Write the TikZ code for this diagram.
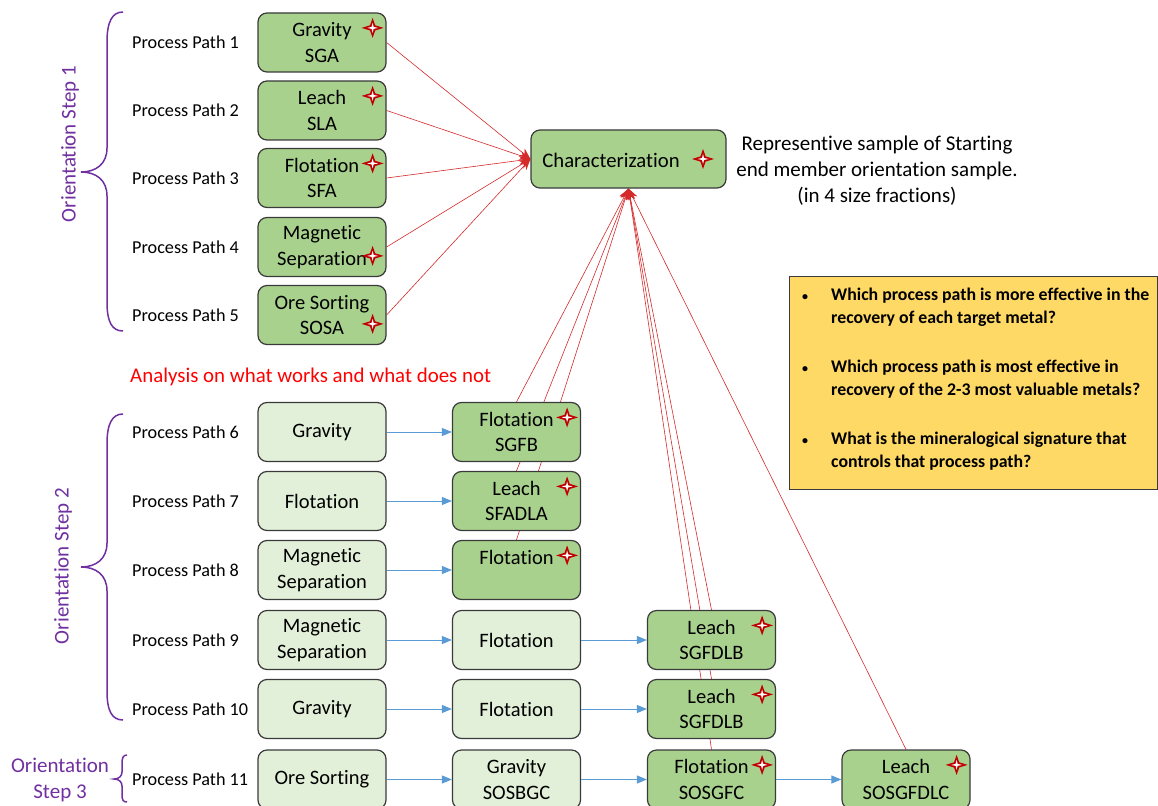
\documentclass[tikz,border=0pt]{standalone}
\usepackage{fontspec}
\setmainfont{Carlito}[Ligatures=NoCommon]
\usetikzlibrary{arrows.meta,calc,backgrounds}

\definecolor{darkgreen}{HTML}{A9D18E}
\definecolor{lightgreen}{HTML}{E2F0D9}
\definecolor{boxline}{HTML}{3A3A3A}
\definecolor{stepviolet}{HTML}{7030A0}
\definecolor{linkred}{HTML}{D42A2A}
\definecolor{sparkred}{HTML}{C00000}
\definecolor{feedblue}{HTML}{5B9BD5}
\definecolor{noteyellow}{HTML}{FFD966}

\tikzset{
  procbox/.style={draw=boxline, line width=1.2pt, rounded corners=9pt,
    minimum width=128pt, minimum height=59pt, align=center, inner sep=0pt,
    font=\fontsize{20.5}{25.5}\selectfont},
  darkbox/.style={procbox, fill=darkgreen},
  lightbox/.style={procbox, fill=lightgreen},
  pathlabel/.style={anchor=west, inner sep=0pt, font=\fontsize{18.2}{22}\selectfont},
  feed/.style={draw=feedblue, line width=1pt, -{Triangle[length=10pt,width=8pt]}},
  tochar/.style={draw=linkred, line width=0.6pt, -{Stealth[length=11pt,width=9pt]}},
  stepbrace/.style={draw=stepviolet, line width=1.5pt},
  steplabel/.style={text=stepviolet, inner sep=0pt, font=\fontsize{21}{26}\selectfont},
  spark/.pic={
    \fill[sparkred] (0,-10) -- (2.6,-2.6) -- (11,0) -- (2.6,2.6) -- (0,10)
      -- (-2.6,2.6) -- (-11,0) -- (-2.6,-2.6) -- cycle;
    \fill[white] (0,-5) -- (1,-1) -- (5.5,0) -- (1,1) -- (0,5)
      -- (-1,1) -- (-5.5,0) -- (-1,-1) -- cycle;
  },
}
\newcommand\qdot{{\fontsize{12}{12}\selectfont\textbullet}}

\begin{document}
\begin{tikzpicture}[x=1pt,y=-1pt]
\useasboundingbox (0,0) rectangle (1158,805);

% ---------- orientation step 1 ----------
\foreach \n/\y in {1/42.5,2/110.5,3/178,4/247,5/315}
  \node[pathlabel] (pp\n) at (132,\y) {Process Path \n};

\node[darkbox] (g1) at (322,42.5) {Gravity\\SGA};
\node[darkbox] (g2) at (322,110.5) {Leach\\SLA};
\node[darkbox] (g3) at (322,178) {Flotation\\SFA};
\node[darkbox] (g4) at (322,247) {Magnetic\\Separation};
\node[darkbox] (g5) at (322,315) {Ore Sorting\\SOSA};

\node[darkbox, minimum width=195pt, minimum height=58pt] (char) at (628.5,159) {};
\node[inner sep=0pt, font=\fontsize{20.7}{25}\selectfont] (chartext) at (611,160) {Characterization};

\node[align=center, inner sep=0pt, font=\fontsize{21}{26}\selectfont] (sample) at (877,171)
  {Representive sample of Starting\\end member orientation sample.\\(in 4 size fractions)};

\node[anchor=west, inner sep=0pt, text=red, font=\fontsize{20.9}{25}\selectfont] (analysis) at (130,377)
  {Analysis on what works and what does not};

% ---------- orientation step 2 and 3 ----------
\foreach \n/\y in {6/432,7/501,8/570,9/640,10/709,11/779.5}
  \node[pathlabel] (pp\n) at (132,\y) {Process Path \n};

\node[lightbox] (r6a) at (322,432) {Gravity};
\node[darkbox]  (r6b) at (516.5,432) {Flotation\\SGFB};
\node[lightbox] (r7a) at (322,501) {Flotation};
\node[darkbox]  (r7b) at (516.5,501) {Leach\\SFADLA};
\node[lightbox] (r8a) at (322,570) {Magnetic\\Separation};
\node[darkbox]  (r8b) at (516.5,570) {Flotation\\\phantom{SGFB}};
\node[lightbox] (r9a) at (322,640) {Magnetic\\Separation};
\node[lightbox] (r9b) at (516.5,640) {Flotation};
\node[darkbox]  (r9c) at (711.5,640) {Leach\\SGFDLB};
\node[lightbox] (r10a) at (322,709) {Gravity};
\node[lightbox] (r10b) at (516.5,709) {Flotation};
\node[darkbox]  (r10c) at (711.5,709) {Leach\\SGFDLB};
\node[lightbox] (r11a) at (322,779.5) {Ore Sorting};
\node[lightbox] (r11b) at (516.5,779.5) {Gravity\\SOSBGC};
\node[darkbox]  (r11c) at (711.5,779.5) {Flotation\\SOSGFC};
\node[darkbox]  (r11d) at (906,779.5) {Leach\\SOSGFDLC};

% ---------- links to characterization (behind the boxes) ----------
\begin{pgfonlayer}{background}
  \foreach \b in {g1,g2,g3,g4,g5}
    \draw[tochar] (\b.east) -- (char.west);
  \foreach \b in {r6b,r7b,r8b,r9c,r10c,r11c,r11d}
    \draw[tochar] (\b.north) -- (char.south);
\end{pgfonlayer}

% ---------- process flow ----------
\draw[feed] (r6a) -- (r6b);
\draw[feed] (r7a) -- (r7b);
\draw[feed] (r8a) -- (r8b);
\draw[feed] (r9a) -- (r9b);
\draw[feed] (r9b) -- (r9c);
\draw[feed] (r10a) -- (r10b);
\draw[feed] (r10b) -- (r10c);
\draw[feed] (r11a) -- (r11b);
\draw[feed] (r11b) -- (r11c);
\draw[feed] (r11c) -- (r11d);

% ---------- markers ----------
\foreach \b in {g1,g2,g3,r6b,r7b,r8b,r9c,r10c,r11c,r11d}
  \pic at ($(\b.north east)+(-14,15.5)$) {spark};
\pic at ($(g4.north east)+(-14,39)$) {spark};
\pic at ($(g5.north east)+(-14,39)$) {spark};
\pic at (703,159) {spark};

% ---------- braces and step labels ----------
\draw[stepbrace] (123,12) .. controls (112,12) and (107,22) .. (107,42)
  -- (107,148) .. controls (107,164) and (96,172) .. (81,172)
  .. controls (96,172) and (107,180) .. (107,196)
  -- (107,302) .. controls (107,322) and (112,331) .. (123,331);
\node[steplabel, rotate=90] (step1) at (70,144) {Orientation Step 1};

\draw[stepbrace] (123,414) .. controls (112,414) and (107,424) .. (107,444)
  -- (107,543) .. controls (107,559) and (96,567) .. (81,567)
  .. controls (96,567) and (107,575) .. (107,591)
  -- (107,691) .. controls (107,711) and (112,720) .. (123,720);
\node[steplabel, rotate=90] (step2) at (63,566) {Orientation Step 2};

\draw[stepbrace] (127,755) .. controls (123,755) and (122,758) .. (122,764)
  -- (122,772) .. controls (122,776) and (119,779) .. (114,779)
  .. controls (119,779) and (122,782) .. (122,786)
  -- (122,794) .. controls (122,800) and (123,802) .. (127,802);
\node[steplabel, align=center] (step3) at (60,780) {Orientation\\Step 3};

% ---------- questions ----------
\node[draw=boxline, line width=1.2pt, fill=noteyellow, minimum width=368pt,
      minimum height=213pt, anchor=north west] (questions) at (789,276) {};
\node[anchor=north west, inner sep=0pt, align=left,
      font=\fontsize{17.8}{23}\selectfont\bfseries] (qtext) at (802,284)
  {\begin{tabular}{@{}l@{\hspace{23pt}}l@{}}
   \qdot & Which process path is more effective in the\\
         & recovery of each target metal?\\[26pt]
   \qdot & Which process path is most effective in\\
         & recovery of the 2-3 most valuable metals?\\[26pt]
   \qdot & What is the mineralogical signature that\\
         & controls that process path?
   \end{tabular}};
\end{tikzpicture}
\end{document}
